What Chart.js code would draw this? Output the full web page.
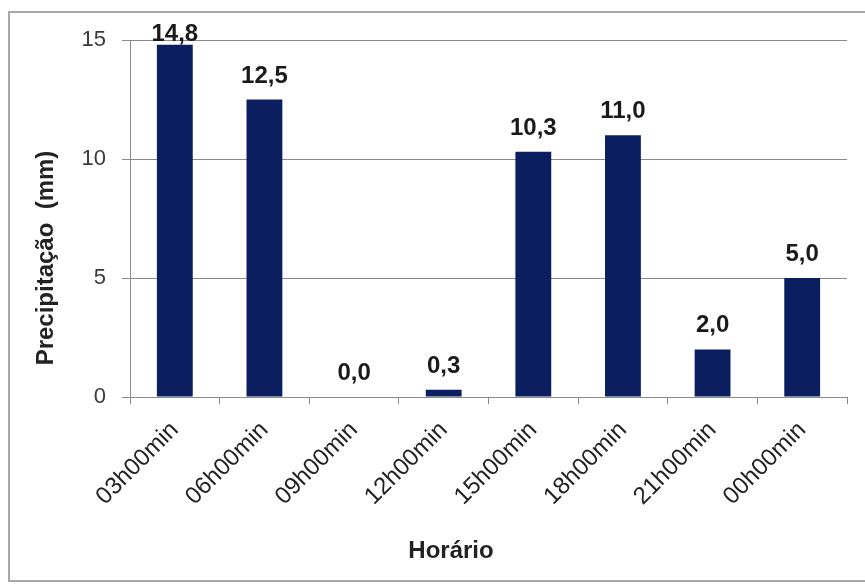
<!DOCTYPE html>
<html lang="pt">
<head>
  <meta charset="UTF-8">
  <title>Precipitação por horário</title>
  <script src="https://cdn.jsdelivr.net/npm/chart.js"></script>
  <style>
    body { margin: 0; background: #fff; }
    #frame { position: absolute; left: 8px; top: 11px; width: 900px; height: 567px; border: 2px solid #a8a8a8; }
    #chart { position: absolute; left: 0; top: 0; }
  </style>
</head>
<body>
<div id="frame"></div>
<canvas id="chart" width="865" height="584"></canvas>

<script>
  const horarios = ['03h00min', '06h00min', '09h00min', '12h00min', '15h00min', '18h00min', '21h00min', '00h00min'];
  const precipitacao = [14.8, 12.5, 0.0, 0.3, 10.3, 11.0, 2.0, 5.0];
  const yTicks = [0, 5, 10, 15];
  const tituloY = 'Precipitação  (mm)';
  const tituloX = 'Horário';

  const fonte = '"Liberation Sans", Arial, sans-serif';

  // rótulos de valor acima das barras
  const rotulos = {
    id: 'rotulos',
    afterDatasetsDraw(chart) {
      const ctx = chart.ctx;
      const meta = chart.getDatasetMeta(0);
      ctx.save();
      ctx.font = 'bold 24px ' + fonte;
      ctx.fillStyle = '#1a1a1a';
      ctx.textAlign = 'center';
      ctx.textBaseline = 'alphabetic';
      meta.data.forEach((bar, i) => {
        const y = Math.max(bar.y - 17, chart.chartArea.top + 1);
        ctx.fillText(precipitacao[i].toFixed(1).replace('.', ','), bar.x, y);
      });
      ctx.restore();
    }
  };

  // títulos dos eixos
  const titulos = {
    id: 'titulos',
    afterDraw(chart) {
      const ctx = chart.ctx;
      ctx.save();
      ctx.font = 'bold 24px ' + fonte;
      ctx.fillStyle = '#222';
      ctx.textAlign = 'center';
      ctx.textBaseline = 'middle';
      ctx.fillText(tituloX, 451, 551);
      ctx.translate(46, 258);
      ctx.rotate(-Math.PI / 2);
      ctx.fillText(tituloY, 0, 0);
      ctx.restore();
    }
  };

  new Chart(document.getElementById('chart'), {
    type: 'bar',
    data: {
      labels: horarios,
      datasets: [{
        data: precipitacao,
        backgroundColor: '#0b1f60',
        barPercentage: 0.4,
        categoryPercentage: 1.0
      }]
    },
    options: {
      responsive: false,
      animation: false,
      layout: { padding: { top: 40, right: 18, left: 0, bottom: 0 } },
      plugins: { legend: { display: false }, tooltip: { enabled: false } },
      scales: {
        x: {
          afterFit: s => { s.height = 187; },
          grid: { drawOnChartArea: false, tickLength: 7, color: '#8a8a8a' },
          border: { color: '#8a8a8a' },
          ticks: {
            minRotation: 45, maxRotation: 45, padding: 12,
            color: '#222', font: { family: fonte, size: 24 }
          }
        },
        y: {
          min: 0, max: 15,
          afterFit: s => { s.width = 130; },
          afterBuildTicks: s => { s.ticks = yTicks.map(v => ({ value: v })); },
          grid: { color: '#8a8a8a', tickLength: 8 },
          border: { color: '#8a8a8a' },
          ticks: {
            padding: 16, color: '#3a3a3a',
            font: { family: fonte, size: 22 }
          }
        }
      }
    },
    plugins: [rotulos, titulos]
  });
</script>
</body>
</html>
